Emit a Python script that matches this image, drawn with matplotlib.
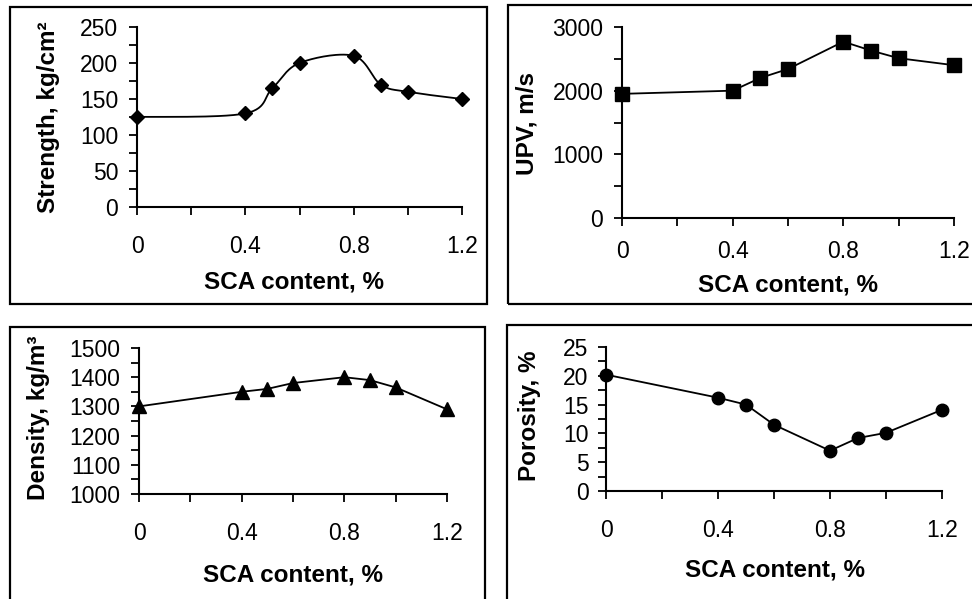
import matplotlib
matplotlib.use("Agg")
import matplotlib.pyplot as plt
from matplotlib.patches import Rectangle
from matplotlib.ticker import MultipleLocator
import numpy as np

plt.rcParams["font.family"] = ["Liberation Sans", "DejaVu Sans"]

### data ###
sca = [0, 0.4, 0.5, 0.6, 0.8, 0.9, 1.0, 1.2]
strength = [125, 130, 165, 200, 210, 170, 160, 150]
upv = [1950, 2000, 2200, 2340, 2770, 2630, 2510, 2400]
density = [1300, 1350, 1360, 1380, 1400, 1390, 1365, 1290]
porosity = [20.2, 16.2, 15.0, 11.5, 7.0, 9.2, 10.1, 14.1]

x_label = "SCA content, %"
x_ticks = [0, 0.4, 0.8, 1.2]

W, H = 972, 599
fig = plt.figure(figsize=(W / 100, H / 100), dpi=100)


def px_axes(l, t, r, b):
    # pixel box (left, top, right, bottom) -> figure fraction axes
    return fig.add_axes([l / W, 1 - b / H, (r - l) / W, (b - t) / H])


def box(l, t, r, b):
    fig.patches.append(Rectangle((l / W, 1 - b / H), (r - l) / W, (b - t) / H,
                                 transform=fig.transFigure, fill=False,
                                 edgecolor="black", linewidth=1.6, zorder=0))


def smooth(xs, ys, xr, yr, n=30):
    # Excel-like smoothed line (bezier with 1/6 tangent rule) in scaled space
    p = np.column_stack([np.array(xs) / xr, np.array(ys) / yr])
    out = []
    for i in range(len(p) - 1):
        p0 = p[i - 1] if i > 0 else p[i]
        p3 = p[i + 2] if i + 2 < len(p) else p[i + 1]
        c1 = p[i] + (p[i + 1] - p0) / 6
        c2 = p[i + 1] - (p3 - p[i]) / 6
        t = np.linspace(0, 1, n)[:, None]
        seg = ((1 - t) ** 3) * p[i] + 3 * ((1 - t) ** 2) * t * c1 + 3 * (1 - t) * t ** 2 * c2 + t ** 3 * p[i + 1]
        out.append(seg)
    out = np.vstack(out)
    return out[:, 0] * xr, out[:, 1] * yr


def style(ax, ylo, ymax, ymajor, yminor, xpad, ypad):
    ax.set_xlim(0, 1.2)
    ax.set_ylim(ylo, ymax)
    ax.set_xticks(x_ticks)
    ax.set_xticklabels(["0", "0.4", "0.8", "1.2"])
    ax.xaxis.set_minor_locator(MultipleLocator(0.2))
    ax.yaxis.set_major_locator(MultipleLocator(ymajor))
    ax.yaxis.set_minor_locator(MultipleLocator(yminor))
    for s in ["top", "right"]:
        ax.spines[s].set_visible(False)
    for s in ["left", "bottom"]:
        ax.spines[s].set_linewidth(1.5)
    ax.tick_params(which="both", direction="out", length=5.5, width=1.3)
    ax.tick_params(axis="x", which="both", pad=xpad)
    ax.tick_params(axis="y", which="both", pad=ypad)
    ax.tick_params(labelsize=16.5)
    ax.set_facecolor("none")


mk = dict(color="black", markeredgecolor="black", linewidth=1.3, clip_on=False, zorder=3)
lab = dict(ha="center", va="center", fontsize=17.5, fontweight="bold")

# top-left: strength
box(10, 7, 487, 304)
ax1 = px_axes(137, 27, 462, 207)
sx, sy = smooth(sca, strength, 1.2, 250 * 180 / 325)
ax1.plot(sx, sy, color="black", linewidth=1.3, clip_on=False)
ax1.plot(sca, strength, linestyle="none", marker="D", markersize=7.5, **mk)
style(ax1, 0, 250, 50, 25, 15, 8)
fig.text(49 / W, 1 - 117 / H, "Strength, kg/cm²", rotation=90, **lab)
fig.text(294 / W, 1 - 282 / H, x_label, **lab)

# top-right: UPV
box(508, 5, 980, 304)
ax2 = px_axes(622, 27, 954, 218)
ax2.plot(sca, upv, marker="s", markersize=9.5, **mk)
style(ax2, 0, 3000, 1000, 500, 10, 8)
fig.text(527 / W, 1 - 123 / H, "UPV, m/s", rotation=90, **lab)
fig.text(788 / W, 1 - 285 / H, x_label, **lab)

# bottom-left: density
box(10, 327, 485, 610)
ax3 = px_axes(139, 348, 447, 494)
ax3.plot(sca, density, marker="^", markersize=10, **mk)
style(ax3, 1000, 1500, 100, 50, 15, 8)
fig.text(38 / W, 1 - 418 / H, "Density, kg/m³", rotation=90, **lab)
fig.text(293 / W, 1 - 575 / H, x_label, **lab)

# bottom-right: porosity
box(507, 325, 980, 610)
ax4 = px_axes(606, 347, 942, 491)
ax4.plot(sca, porosity, marker="o", markersize=9, **mk)
style(ax4, 0, 25, 5, 2.5, 15, 7)
fig.text(529 / W, 1 - 416 / H, "Porosity, %", rotation=90, **lab)
fig.text(775 / W, 1 - 570 / H, x_label, **lab)

fig.savefig("out.png", dpi=100)
